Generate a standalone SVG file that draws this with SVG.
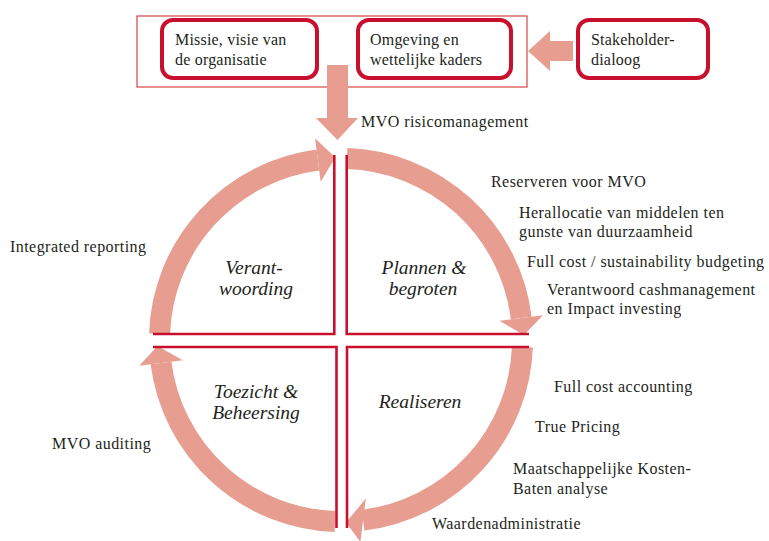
<svg xmlns="http://www.w3.org/2000/svg" width="769" height="541" viewBox="0 0 769 541">
<style>
.t{font-family:"Liberation Serif","Times New Roman",serif;font-size:16px;fill:#231f20;letter-spacing:0.45px}
.b{letter-spacing:0.2px}
.q{font-family:"Liberation Serif","Times New Roman",serif;font-size:19.5px;font-style:italic;fill:#231f20;text-anchor:middle}
.box{fill:#fff;stroke:#c8102e;stroke-width:4}
.arc{fill:none;stroke:#e79e91;stroke-width:21}
.head{fill:#e79e91}
.ql{fill:none;stroke:#c8102e;stroke-width:2.6}
</style>
<rect width="769" height="541" fill="#fff"/>
<g id="outer-frame"><rect x="137" y="16" width="390" height="71" fill="none" stroke="#d9534f" stroke-width="1.3"/></g>
<g id="connectors">
<path class="arc" d="M159.6 333.7 A181.5 181.5 0 0 1 317.9 160"/>
<polygon class="head" points="315.1,138.2 335.3,157.5 320.7,181.8"/>
<path class="arc" d="M347 158.6 A181.5 181.5 0 0 1 521.2 318"/>
<polygon class="head" points="543,315.3 523.8,335.3 499.4,320.7"/>
<path class="arc" d="M522.4 347 A181.5 181.5 0 0 1 363.1 520.2"/>
<polygon class="head" points="365.8,498.4 346,522.6 360.4,542"/>
<path class="arc" d="M335 521.4 A181.5 181.5 0 0 1 161 363"/>
<polygon class="head" points="139.2,365.8 157.5,346 182.8,360.2"/>
<polygon class="head" points="327,65 348,65 348,118 358,118 337.5,140 316,118 327,118"/>
<polygon class="head" points="573,41 573,61 550,61 550,71 528,51 550,31 550,41"/>
</g>
<g id="missie"><rect class="box" x="162" y="20" width="155" height="58" rx="11"/>
<text class="t b" x="175" y="45">Missie, visie van</text><text class="t b" x="175" y="65">de organisatie</text></g>
<g id="omgeving"><rect class="box" x="358" y="20" width="153" height="58" rx="11"/>
<text class="t b" x="370" y="45">Omgeving en</text><text class="t b" x="370" y="65">wettelijke kaders</text></g>
<g id="stakeholder"><rect class="box" x="578" y="20" width="130" height="58" rx="11"/>
<text class="t b" x="591" y="45">Stakeholder-</text><text class="t b" x="591" y="65">dialoog</text></g>
<g id="verantwoording"><polyline class="ql" points="334.3,155 334.3,334 153,334"/>
<text class="q" x="254" y="274">Verant-</text><text class="q" x="256" y="295">woording</text></g>
<g id="plannen"><polyline class="ql" points="346.7,155 346.7,334 529,334"/>
<text class="q" x="424" y="274">Plannen &amp;</text><text class="q" x="423" y="295">begroten</text></g>
<g id="toezicht"><polyline class="ql" points="153,347 336.5,347 336.5,528"/>
<text class="q" x="256" y="398">Toezicht &amp;</text><text class="q" x="256" y="419">Beheersing</text></g>
<g id="realiseren"><polyline class="ql" points="529,347 347,347 347,528"/>
<text class="q" x="420" y="408">Realiseren</text></g>
<g id="labels">
<text class="t" x="361" y="127">MVO risicomanagement</text>
<text class="t" x="491" y="187">Reserveren voor MVO</text>
<text class="t" x="519" y="218">Herallocatie van middelen ten</text>
<text class="t" x="519" y="237">gunste van duurzaamheid</text>
<text class="t" x="527" y="267">Full cost / sustainability budgeting</text>
<text class="t" x="547" y="295">Verantwoord cashmanagement</text>
<text class="t" x="547" y="314">en Impact investing</text>
<text class="t" x="10" y="252">Integrated reporting</text>
<text class="t" x="554" y="392">Full cost accounting</text>
<text class="t" x="535" y="432">True Pricing</text>
<text class="t" x="513" y="474">Maatschappelijke Kosten-</text>
<text class="t" x="513" y="494">Baten analyse</text>
<text class="t" x="432" y="529">Waardenadministratie</text>
<text class="t" x="52" y="449">MVO auditing</text>
</g>
</svg>
